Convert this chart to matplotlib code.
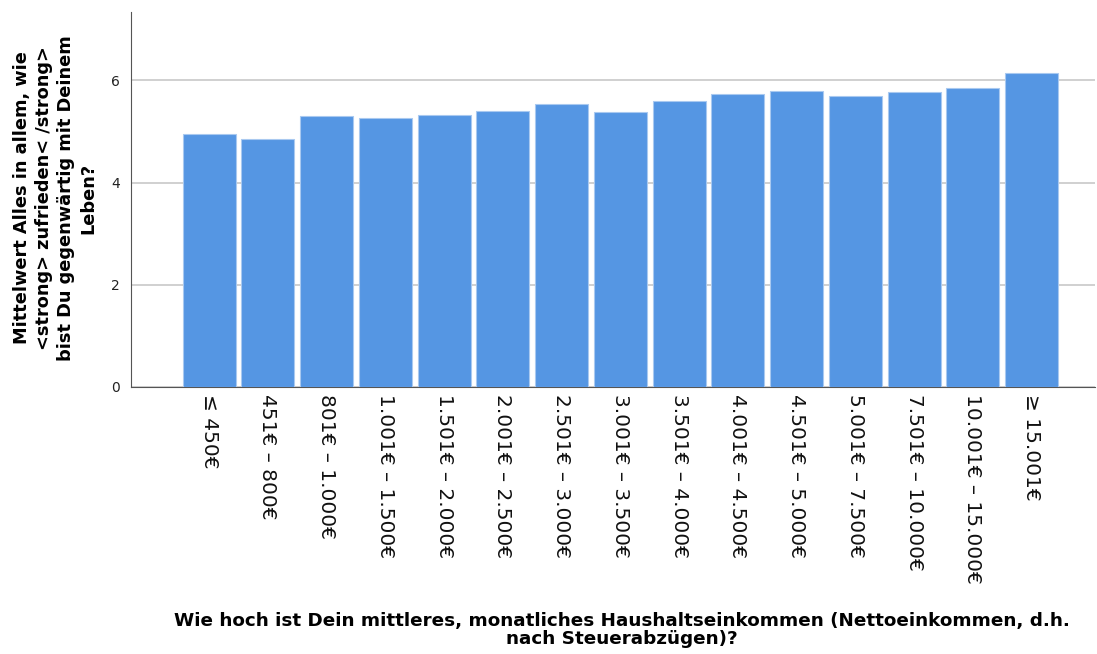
import numpy as np
import matplotlib
matplotlib.use('Agg')
import matplotlib.pyplot as plt

kategorien = ['≤ 450€', '451€ – 800€', '801€ – 1.000€', '1.001€ – 1.500€',
              '1.501€ – 2.000€', '2.001€ – 2.500€', '2.501€ – 3.000€',
              '3.001€ – 3.500€', '3.501€ – 4.000€', '4.001€ – 4.500€',
              '4.501€ – 5.000€', '5.001€ – 7.500€', '7.501€ – 10.000€',
              '10.001€ – 15.000€', '≥ 15.001€']
mittelwerte = [4.96, 4.86, 5.30, 5.27, 5.32, 5.40, 5.54, 5.39, 5.59,
               5.73, 5.80, 5.69, 5.78, 5.86, 6.14]
y_ticks = [0, 2, 4, 6]

fig = plt.figure(figsize=(10.97, 6.54), dpi=100)
ax = fig.add_axes([131/1097, 1 - 387/654, (1095 - 131)/1097, (387 - 12)/654])

x = np.arange(len(kategorien))
ax.bar(x, mittelwerte, width=0.9, color='#5596e3', edgecolor='#a9c9f0',
       linewidth=0.8, zorder=3)

ax.set_xlim(-1.33, len(kategorien) - 1 + 1.08)
ax.set_ylim(0, 7.34)
ax.set_yticks(y_ticks)
ax.set_yticklabels([str(t) for t in y_ticks], fontsize=10, color='#222222')
ax.set_xticks(x)
ax.set_xticklabels(kategorien, rotation=-90, fontsize=14.5, va='top', ha='center',
                   color='#111111')
ax.tick_params(axis='both', length=0)
ax.tick_params(axis='y', pad=8)
ax.tick_params(axis='x', pad=5)

ax.grid(axis='y', color='#c4c4c4', linewidth=1.1, zorder=0)
ax.spines['top'].set_visible(False)
ax.spines['right'].set_visible(False)
ax.spines['left'].set_color('#555555')
ax.spines['bottom'].set_color('#555555')

fig.text(55/1097, 1 - 198/654,
         'Mittelwert Alles in allem, wie\n<strong> zufrieden< /strong>\nbist Du gegenwärtig mit Deinem\nLeben?',
         rotation=90, ha='center', va='center', fontsize=12.8, fontweight='bold',
         linespacing=1.3)
fig.text(622/1097, 1 - 630/654,
         'Wie hoch ist Dein mittleres, monatliches Haushaltseinkommen (Nettoeinkommen, d.h.\nnach Steuerabzügen)?',
         ha='center', va='center', fontsize=13.2, fontweight='bold', linespacing=1.05)

fig.savefig('out.png', dpi=100)
